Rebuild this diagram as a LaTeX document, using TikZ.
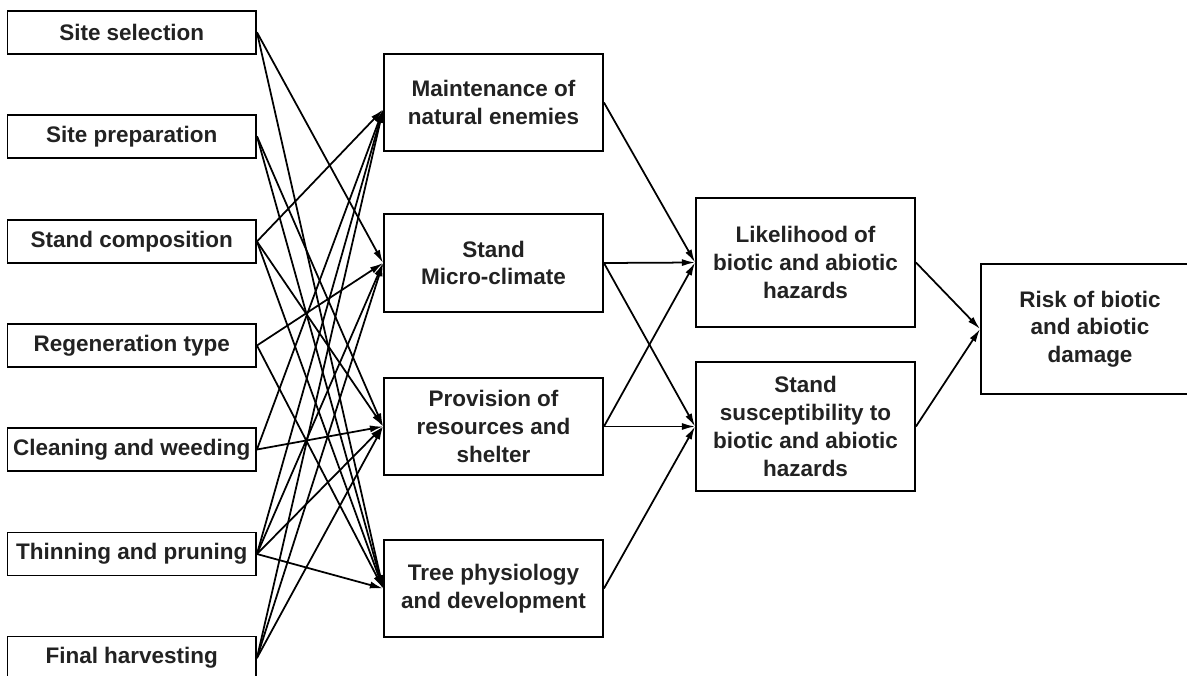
\documentclass[tikz,border=0pt]{standalone}
\usepackage{fontspec}
\setmainfont{Liberation Sans}
\usetikzlibrary{arrows.meta,calc}
\definecolor{txt}{HTML}{222222}
\begin{document}
\begin{tikzpicture}[x=0.02cm,y=-0.02cm,
  box/.style={draw, line width=1.1pt, inner sep=0pt, align=center,
    font=\bfseries\fontsize{12.8}{15.8}\selectfont, text=txt},
  lbox/.style={box, minimum width=4.97cm, minimum height=0.86cm},
  mbox/.style={box, minimum width=4.38cm, minimum height=1.95cm},
  rbox/.style={box, minimum width=4.38cm, minimum height=2.58cm},
  conn/.style={-{Latex[length=7.5pt,width=4pt]}, line width=1pt}]
\useasboundingbox (0,0) rectangle (1187,676);
\clip (0,0) rectangle (1187,676);
% left column
\node[lbox] (l1) at (131.75,32.25) {Site selection};
\node[lbox] (l2) at (131.75,136.25) {Site preparation};
\node[lbox] (l3) at (131.75,241.5) {Stand composition};
\node[lbox] (l4) at (131.75,345.5) {Regeneration type};
\node[lbox] (l5) at (131.75,449.5) {Cleaning and weeding};
\node[lbox] (l6) at (131.75,554) {Thinning and pruning};
\node[lbox] (l7) at (131.75,658) {Final harvesting};
% middle column
\node[mbox] (m1) at (493.5,102.5) {Maintenance of\\natural enemies};
\node[mbox] (m2) at (493.5,263) {Stand\\Micro-climate};
\node[mbox] (m3) at (493.5,426.5) {Provision of\\resources and\\shelter};
\node[mbox] (m4) at (493.5,588.5) {Tree physiology\\and development};
% right columns
\node[rbox] (r1) at (805.5,262.5) {Likelihood of\\biotic and abiotic\\hazards};
\node[rbox] (r2) at (805.5,426.5) {Stand\\susceptibility to\\biotic and abiotic\\hazards};
\node[box, minimum width=4.36cm, minimum height=2.6cm] (f) at (1090,329) {Risk of biotic\\and abiotic\\damage};
\coordinate (m1in) at ($(m1.west)+(0,7)$);
% left -> middle
\draw[conn] (l1.east) -- (m2.west);
\draw[conn] (l1.east) -- (m4.west);
\draw[conn] (l2.east) -- (m3.west);
\draw[conn] (l2.east) -- (m4.west);
\draw[conn] (l3.east) -- (m1in);
\draw[conn] (l3.east) -- (m3.west);
\draw[conn] (l3.east) -- (m4.west);
\draw[conn] (l4.east) -- (m2.west);
\draw[conn] (l4.east) -- (m4.west);
\draw[conn] (l5.east) -- (m1in);
\draw[conn] (l5.east) -- (m3.west);
\draw[conn] (l6.east) -- (m1in);
\draw[conn] (l6.east) -- (m2.west);
\draw[conn] (l6.east) -- (m3.west);
\draw[conn] (l6.east) -- (m4.west);
\draw[conn] (l7.east) -- (m1in);
\draw[conn] (l7.east) -- (m2.west);
\draw[conn] (l7.east) -- (m3.west);
% middle -> right
\draw[conn] (m1.east) -- (r1.west);
\draw[conn] (m2.east) -- (r1.west);
\draw[conn] (m2.east) -- (r2.west);
\draw[conn] (m3.east) -- (r1.west);
\draw[conn] (m3.east) -- (r2.west);
\draw[conn] (m4.east) -- (r2.west);
\draw[conn] (r1.east) -- (f.west);
\draw[conn] (r2.east) -- (f.west);
\end{tikzpicture}
\end{document}
